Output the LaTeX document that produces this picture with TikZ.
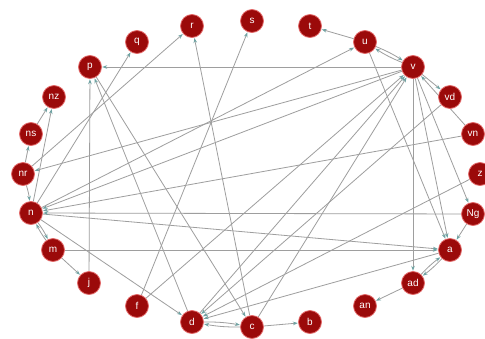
\documentclass[tikz,border=0pt]{standalone}
\usepackage{fontspec}
\setmainfont{Liberation Sans}
\usetikzlibrary{arrows.meta}
\definecolor{nodered}{HTML}{9B0A0A}
\definecolor{nodeedge}{HTML}{E36A6A}
\definecolor{edgegray}{HTML}{9E9E9E}
\definecolor{tipteal}{HTML}{6FA3A3}
\pgfdeclarelayer{bg}
\pgfsetlayers{bg,main}
\begin{document}
\begin{tikzpicture}[x=1pt,y=-1pt,
  tag/.style={circle,fill=nodered,draw=nodeedge,line width=0.8pt,minimum size=23pt,inner sep=0pt,text=white,font=\fontsize{10}{10}\selectfont},
  link/.style={draw=edgegray,line width=0.8pt,-{Stealth[length=5pt,width=3.6pt,color=tipteal]},shorten >=0.3pt},
  pair/.style={link,bend left=5}]
\useasboundingbox (0,0) rectangle (485,338);
% nodes
\node[tag] (p) at (90,67) {p};
\node[tag] (q) at (137,42) {q};
\node[tag] (r) at (192,26) {r};
\node[tag] (s) at (252,21) {s};
\node[tag] (t) at (310,26) {t};
\node[tag] (u) at (365,42) {u};
\node[tag] (v) at (413,67) {v};
\node[tag] (vd) at (450,97) {vd};
\node[tag] (vn) at (473,134) {vn};
\node[tag] (z) at (480,174) {z};
\node[tag] (Ng) at (473,214) {Ng};
\node[tag] (a) at (450,250) {a};
\node[tag] (ad) at (413,283) {ad};
\node[tag] (an) at (365,306) {an};
\node[tag] (b) at (310,322) {b};
\node[tag] (c) at (252,327) {c};
\node[tag] (d) at (192,322) {d};
\node[tag] (f) at (137,306) {f};
\node[tag] (j) at (89,283) {j};
\node[tag] (m) at (53,250) {m};
\node[tag] (n) at (31,213) {n};
\node[tag] (nr) at (23,174) {nr};
\node[tag] (ns) at (31,134) {ns};
\node[tag] (nz) at (54,97) {nz};
% edges
\begin{pgfonlayer}{bg}
\fill[white] (0,0) rectangle (485,338);
\draw[link] (v) -- (p);
\draw[link] (j) -- (p);
\draw[link] (d) -- (p);
\draw[link] (p) -- (c);
\draw[link] (n) -- (q);
\draw[link] (nr) -- (r);
\draw[link] (c) -- (r);
\draw[link] (f) -- (s);
\draw[link] (u) -- (t);
\draw[pair] (u) to (v);
\draw[pair] (v) to (u);
\draw[link] (v) -- (vd);
\draw[link] (vn) -- (v);
\draw[link] (v) -- (Ng);
\draw[link] (Ng) -- (a);
\draw[link] (v) -- (a);
\draw[link] (u) -- (a);
\draw[link] (v) -- (ad);
\draw[pair] (ad) to (a);
\draw[pair] (a) to (ad);
\draw[link] (ad) -- (an);
\draw[link] (c) -- (b);
\draw[pair] (d) to (c);
\draw[pair] (c) to (d);
\draw[link] (z) -- (d);
\draw[link] (a) -- (d);
\draw[link] (vd) -- (d);
\draw[link] (n) -- (a);
\draw[link] (m) -- (a);
\draw[link] (Ng) -- (n);
\draw[link] (vn) -- (n);
\draw[link] (v) -- (n);
\draw[link] (v) -- (nr);
\draw[link] (n) -- (u);
\draw[link] (n) -- (d);
\draw[pair] (m) to (n);
\draw[pair] (n) to (m);
\draw[link] (m) -- (j);
\draw[pair] (nr) to (n);
\draw[link] (nr) -- (ns);
\draw[link] (ns) -- (nz);
\draw[link] (n) -- (nz);
\draw[link] (f) -- (v);
\draw[link] (d) -- (v);
\draw[link] (c) -- (v);
\end{pgfonlayer}
\end{tikzpicture}
\end{document}
